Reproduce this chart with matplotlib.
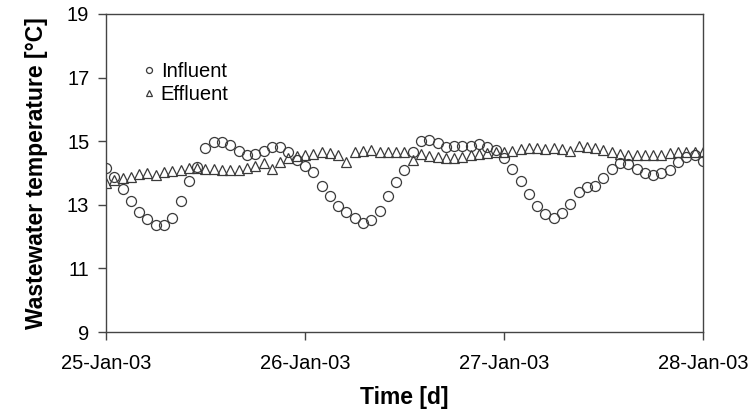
import numpy as np
import pandas as pd
import matplotlib
matplotlib.use('Agg')
import matplotlib.pyplot as plt
import matplotlib.dates as mdates

plt.rcParams['font.family'] = ['Liberation Sans', 'DejaVu Sans']

# hourly readings, 25-Jan-03 00:00 to 28-Jan-03 00:00
times = pd.date_range('2003-01-25', periods=73, freq='h')

influent = [14.15, 13.88, 13.50, 13.12, 12.76, 12.54, 12.36, 12.36, 12.60, 13.12,
            13.76, 14.18, 14.78, 14.96, 14.96, 14.88, 14.70, 14.57, 14.60, 14.70,
            14.83, 14.81, 14.65, 14.41, 14.23, 14.03, 13.60, 13.28, 12.96, 12.78,
            12.58, 12.44, 12.52, 12.81, 13.28, 13.73, 14.09, 14.67, 15.02, 15.04,
            14.95, 14.83, 14.86, 14.86, 14.86, 14.91, 14.83, 14.73, 14.46, 14.12,
            13.76, 13.34, 12.97, 12.71, 12.58, 12.73, 13.02, 13.41, 13.57, 13.59,
            13.85, 14.12, 14.32, 14.28, 14.13, 13.99, 13.94, 13.99, 14.09, 14.35,
            14.51, 14.57, 14.39]

effluent = [13.68, 13.78, 13.83, 13.88, 13.96, 14.01, 13.94, 14.04, 14.07, 14.09,
            14.17, 14.17, 14.12, 14.12, 14.09, 14.09, 14.09, 14.17, 14.23, 14.30,
            14.13, 14.34, 14.48, 14.55, 14.57, 14.59, 14.65, 14.62, 14.57, 14.34,
            14.65, 14.70, 14.72, 14.67, 14.67, 14.67, 14.65, 14.41, 14.60, 14.55,
            14.50, 14.46, 14.46, 14.50, 14.57, 14.60, 14.62, 14.67, 14.67, 14.70,
            14.75, 14.80, 14.80, 14.75, 14.78, 14.75, 14.70, 14.86, 14.83, 14.80,
            14.72, 14.65, 14.59, 14.57, 14.57, 14.57, 14.57, 14.57, 14.62, 14.65,
            14.67, 14.67, 14.67]

y_ticks = [9, 11, 13, 15, 17, 19]
x_ticks = pd.to_datetime(['2003-01-25', '2003-01-26', '2003-01-27', '2003-01-28'])

fig = plt.figure(figsize=(7.55, 4.11), dpi=100)
ax = fig.add_axes([0.1404, 0.192, 0.7906, 0.774])

edge = '#3a3a3a'
ax.plot(times, influent, linestyle='none', marker='o', ms=7.2, mfc='none',
        mec=edge, mew=0.9, label='Influent')
ax.plot(times, effluent, linestyle='none', marker='^', ms=7.2, mfc='none',
        mec=edge, mew=0.9, label='Effluent')

ax.set_xlim(x_ticks[0], x_ticks[-1])
ax.set_ylim(9, 19)
ax.set_yticks(y_ticks)
ax.set_xticks(x_ticks)
ax.xaxis.set_major_formatter(mdates.DateFormatter('%d-%b-%y'))

for s in ax.spines.values():
    s.set_color('#444444')
    s.set_linewidth(1.0)
ax.tick_params(axis='both', direction='out', length=6, width=1.0, color='#444444',
               labelsize=14.5, pad=6)
ax.tick_params(axis='x', pad=10)

ax.set_xlabel('Time [d]', fontsize=16.5, fontweight='bold', labelpad=9)
ax.set_ylabel('Wastewater temperature [°C]', fontsize=16.5, fontweight='bold', labelpad=14)

leg = ax.legend(loc='upper left', bbox_to_anchor=(0.048, 0.875), frameon=False,
                fontsize=14.5, markerscale=0.6, handlelength=0.6, handletextpad=0.3,
                labelspacing=0.2, borderaxespad=0)

fig.savefig('out.png', dpi=100)
